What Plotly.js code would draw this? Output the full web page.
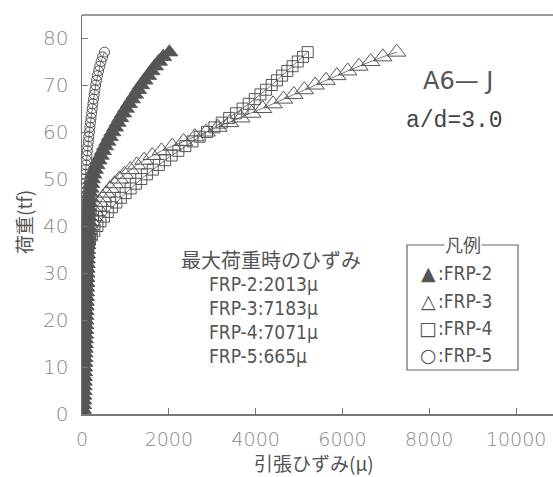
<!DOCTYPE html>
<html>
<head>
<meta charset="utf-8">
<script src="https://cdn.plot.ly/plotly-3.0.1.min.js"></script>
<style>html,body{margin:0;padding:0;background:#fff;}#chart{width:553px;height:477px;}</style>
</head>
<body>
<div id="chart"></div>
<script>
// Load steps (tf)
const load = [0,1,2,3,4,5,6,7,8,9,10,11,12,13,14,15,16,17,18,19,20,21,22,23,24,25,26,27,28,29,30,31,32,33,34,35,36,37,38,39,40,41,42,43,44,45,46,47,48,49,50,51,52,53,54,55,56,57,58,59,60,61,62,63,64,65,66,67,68,69,70,71,72,73,74,75,76,77];

// Strain (μ) per series
const frp2Strain = [0,5,10,14,18,22,25,28,32,35,38,41,44,47,50,53,56,59,62,65,68,71,74,77,80,83,86,89,92,95,98,101,104,107,110,113,117,121,125,129,133,138,143,149,156,164,173,184,197,212,230,260,295,335,380,430,480,530,585,640,700,760,820,880,945,1010,1080,1150,1220,1290,1360,1440,1520,1600,1680,1770,1870,2013];
const frp3Strain = [0,4,8,11,14,17,20,23,26,29,32,35,38,41,44,47,50,53,55,57,59,61,63,65,67,69,71,73,75,77,79,81,83,85,87,90,95,105,125,150,180,215,255,300,350,410,480,560,650,750,860,980,1110,1260,1430,1620,1830,2080,2340,2600,2860,3130,3400,3660,3910,4160,4400,4640,4880,5120,5370,5620,5870,6120,6380,6650,6930,7250];
const frp4Strain = [0,4,8,12,16,20,24,28,32,36,40,44,48,52,56,60,64,68,71,74,77,80,83,86,89,92,95,98,101,104,107,110,113,118,124,132,150,180,225,285,355,425,505,595,690,790,895,1005,1120,1240,1365,1495,1630,1770,1915,2065,2220,2380,2545,2710,2880,3050,3220,3390,3550,3700,3840,3980,4110,4240,4370,4490,4610,4730,4850,4970,5090,5200];
const frp5Strain = [0,3,6,8,10,12,14,16,18,20,22,24,26,28,30,32,33,34,35,36,37,38,39,40,41,42,43,44,45,46,47,48,49,50,51,52,53,54,55,56,57,58,59,60,61,62,63,64,65,67,70,78,86,95,104,114,124,135,146,158,170,182,195,208,222,236,251,266,282,298,315,335,357,382,410,440,475,520];

const seriesNames = ['FRP-2','FRP-3','FRP-4','FRP-5'];
const maxStrainLabels = ['FRP-2:2013μ','FRP-3:7183μ','FRP-4:7071μ','FRP-5:665μ'];
const xTicks = [0,2000,4000,6000,8000,10000];
const yTicks = [0,10,20,30,40,50,60,70,80];

const ink = '#555';
function tr(x, name, symbol, size, lw) {
  return {
    x: x, y: load, name: name, type: 'scatter', mode: 'lines+markers',
    line: {color: ink, width: 0.8},
    marker: {symbol: symbol, size: size, color: ink, line: {color: ink, width: lw}},
    showlegend: false, hoverinfo: 'skip'
  };
}
const data = [
  tr(frp3Strain, seriesNames[1], 'triangle-up-open', 16, 1),
  tr(frp4Strain, seriesNames[2], 'square-open', 11, 1),
  tr(frp5Strain, seriesNames[3], 'circle-open', 10, 1),
  tr(frp2Strain, seriesNames[0], 'triangle-up', 15, 0.8)
];

// layout geometry: plot area px x 82..553, y 15..414
const L = 82, R = 553, T = 15, B = 414;
const px = v => (v - L) / (R - L);
const py = v => (B - v) / (B - T);

const narrow = 'DejaVu Sans Condensed, Liberation Sans Narrow, DejaVu Sans, sans-serif';
const cjk = 'Noto Sans CJK JP, sans-serif';
const ann = [];
function A(text, x, y, font, extra) {
  ann.push(Object.assign({text: text, x: px(x), y: py(y), xref: 'paper', yref: 'paper', showarrow: false,
    xanchor: 'center', yanchor: 'middle', font: font}, extra || {}));
}
A('A6— J', 458, 81, {family: 'DejaVu Sans, sans-serif', size: 24, color: ink});
A('a/d=3.0', 454, 121, {family: 'Liberation Mono, monospace', size: 23, color: '#444'});
A('最大荷重時のひずみ', 271, 259, {family: cjk, size: 20, color: ink});
const labY = [284, 308, 332, 356];
maxStrainLabels.forEach((t, i) => A(t, 207, labY[i], {family: narrow, size: 19, color: ink}, {xanchor: 'left'}));
// legend box
const legSym = ['▲','△','□','○'];
const legY = [273, 301, 328, 355];
seriesNames.forEach((n, i) => {
  A(legSym[i], 428, legY[i], {family: 'DejaVu Sans, sans-serif', size: 19, color: ink});
  A(':' + n, 436, legY[i], {family: narrow, size: 19, color: ink}, {xanchor: 'left'});
});
A('凡例', 463, 244, {family: cjk, size: 18, color: ink}, {bgcolor: '#fff', borderpad: 0});
// axis titles
A('荷重(tf)', 23, 222, {family: cjk, size: 19, color: ink}, {textangle: -90});
A('引張ひずみ(μ)', 314, 462, {family: cjk, size: 19, color: ink});

const layout = {
  width: 553, height: 477,
  margin: {l: L, r: 553 - R, t: T, b: 477 - B, pad: 0},
  paper_bgcolor: '#fff', plot_bgcolor: '#fff',
  xaxis: {range: [0, 10850], tickvals: xTicks, ticktext: xTicks.map(String), ticks: 'inside', ticklen: 6,
    tickcolor: '#777', showline: true, linecolor: '#777', linewidth: 1.5, showgrid: false, zeroline: false,
    ticklabelstandoff: 8, tickfont: {family: 'DejaVu Sans, sans-serif', size: 19, color: '#888', weight: 200}},
  yaxis: {range: [0, 84.9], tickvals: yTicks, ticktext: yTicks.map(String), ticks: 'inside', ticklen: 6,
    tickcolor: '#777', showline: true, linecolor: '#777', linewidth: 1.5, showgrid: false, zeroline: false,
    ticklabelstandoff: 8, tickfont: {family: 'DejaVu Sans, sans-serif', size: 20, color: '#888', weight: 200}},
  shapes: [
    {type: 'line', xref: 'paper', yref: 'paper', x0: 0, x1: 1, y0: 1, y1: 1, line: {color: '#777', width: 1.5}},
    {type: 'rect', xref: 'paper', yref: 'paper', x0: px(407), x1: px(518), y0: py(370), y1: py(245),
      line: {color: '#666', width: 1.2}, fillcolor: 'rgba(0,0,0,0)'}
  ],
  annotations: ann,
  showlegend: false
};
Plotly.newPlot('chart', data, layout, {staticPlot: true, displayModeBar: false});
</script>
</body>
</html>
